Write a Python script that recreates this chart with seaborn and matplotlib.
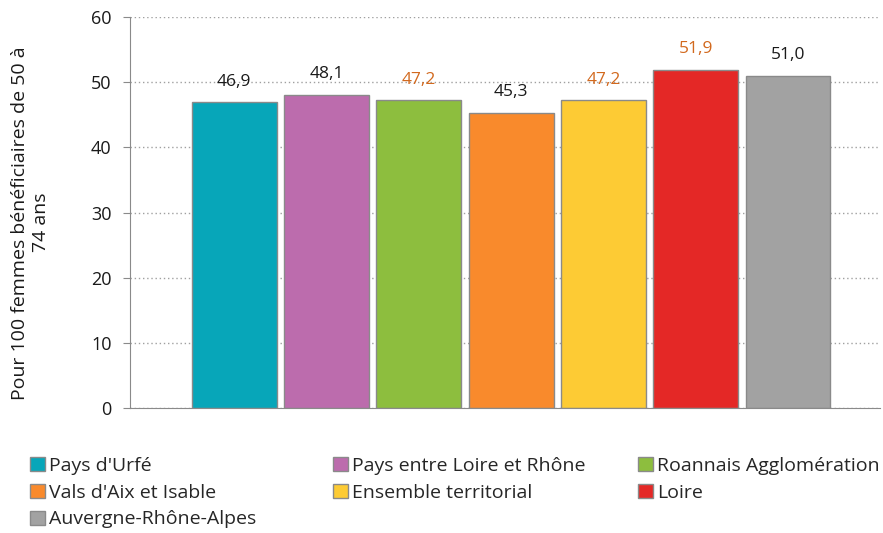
import pandas as pd
import matplotlib
matplotlib.use("Agg")
import matplotlib.pyplot as plt
import seaborn as sns
from matplotlib.patches import Patch

# Data
regions = ["Pays d'Urfé", "Pays entre Loire et Rhône", "Roannais Agglomération",
           "Vals d'Aix et Isable", "Ensemble territorial", "Loire", "Auvergne-Rhône-Alpes"]
values = [46.9, 48.1, 47.2, 45.3, 47.2, 51.9, 51.0]
colors = ["#07A6B9", "#BC6CAD", "#8DBE3E", "#F98A2C", "#FDCB34", "#E42826", "#A2A2A2"]
label_colors = ["#1a1a1a", "#1a1a1a", "#D2691E", "#1a1a1a", "#D2691E", "#D2691E", "#1a1a1a"]

sns.set_style("white")
plt.rcParams['font.family'] = ['Open Sans', 'DejaVu Sans']

my_data = pd.DataFrame({"Territoire": regions, "Valeur": values})

fig = plt.figure(figsize=(8.83, 5.33), dpi=100)
ax = fig.add_axes([0.147, 0.2345, 0.85, 0.7335])

sns.barplot(data=my_data, x="Territoire", y="Valeur", hue="Territoire",
            palette=colors, saturation=1, dodge=False, width=0.92, legend=False,
            edgecolor="#8a8a8a", linewidth=1, ax=ax)

# Value labels above bars
for i, (v, c) in enumerate(zip(values, label_colors)):
    ax.text(i, v + 3.2, f"{v:.1f}".replace(".", ","), ha="center", va="center",
            fontsize=12.5, color=c)

ax.set_xlim(-1.13, 7.0)
ax.set_ylim(0, 60)
ax.set_yticks(range(0, 61, 10))
ax.set_xticks([])
ax.set_xlabel("")
ax.set_ylabel("Pour 100 femmes bénéficiaires de 50 à\n74 ans", fontsize=14, color="#1a1a1a",
              linespacing=1.25)
ax.yaxis.set_label_coords(-0.106, 0.474)
ax.yaxis.grid(True, linestyle=(0, (1, 2)), color="#a0a0a0", linewidth=1)
ax.set_axisbelow(True)
for side in ["top", "right"]:
    ax.spines[side].set_visible(False)
ax.spines["left"].set_color("#8a8a8a")
ax.spines["bottom"].set_color("#8a8a8a")
ax.tick_params(axis="y", left=True, length=5, color="#8a8a8a", labelsize=13,
               labelcolor="#1a1a1a", pad=8)

# Legend: three columns, filled row by row
handles = [Patch(facecolor=c, edgecolor="#8a8a8a", label=r) for r, c in zip(regions, colors)]
col_x = [30 / 883, 333 / 883, 638 / 883]
for k in range(3):
    leg = fig.legend(handles=handles[k::3], loc="upper left",
                     bbox_to_anchor=(col_x[k], 1 - 457 / 533),
                     frameon=False, fontsize=14, handlelength=0.75, handleheight=0.75,
                     handletextpad=0.25, labelspacing=0.45,
                     borderaxespad=0, borderpad=0)

fig.savefig("out.png", dpi=100)
